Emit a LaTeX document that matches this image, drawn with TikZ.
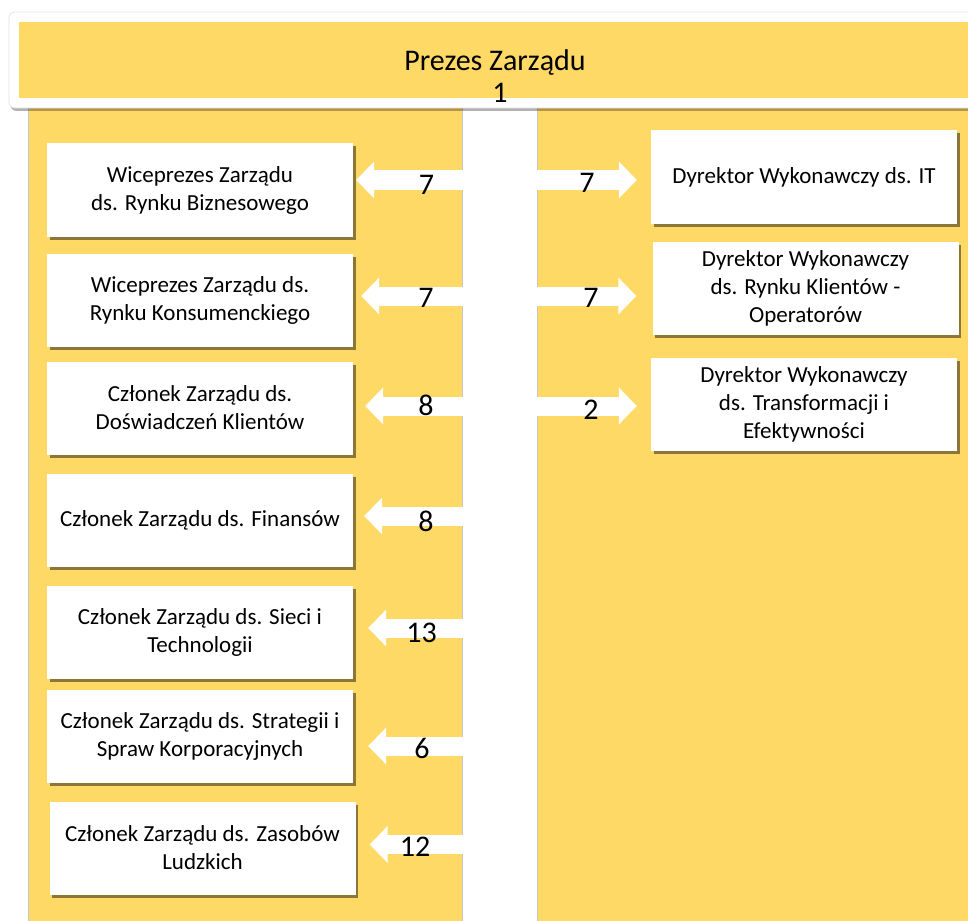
\documentclass[tikz,border=0pt]{standalone}
\usepackage{fontspec}
\setmainfont{Carlito}
\usetikzlibrary{shadows,arrows.meta}
\definecolor{gold}{HTML}{FFD966}
\begin{document}
\begin{tikzpicture}[x=1pt,y=-1pt,
  box/.style={fill=white, minimum width=306pt, minimum height=93pt, align=center,
    font=\fontsize{23}{28}\selectfont, inner sep=2pt,
    drop shadow={shadow xshift=2.5pt, shadow yshift=-3pt, fill=black, opacity=0.45}},
  num/.style={font=\fontsize{30}{32}\selectfont, inner sep=0pt},
  arr/.style={white, line width=19pt, -{Triangle[width=36pt,length=18pt]}},
  panel/.style={fill=gold, draw=black!22, line width=1pt}]
\useasboundingbox (0,0) rectangle (968,920);
\begin{scope}
\clip (0,0) rectangle (968,920);
\fill[white] (0,0) rectangle (968,920);
\draw[panel] (28,100) rectangle (462,940);
\draw[panel] (537,100) rectangle (990,940);
% header
\path[fill=white, draw=black!10, line width=0.8pt, rounded corners=6pt,
  drop shadow={shadow xshift=1.5pt, shadow yshift=-3pt, fill=black, opacity=0.3}]
  (9,12) rectangle (1000,108);
\fill[gold] (19,22) rectangle (990,98);
\node[font=\fontsize{30}{32}\selectfont, inner sep=0pt] (head) at (495,63) {Prezes Zarządu};
\node[num] (headnum) at (500,93) {1};
% left boxes
\node[box] (b1) at (200,190) {Wiceprezes Zarządu\\ds. Rynku Biznesowego};
\node[box] (b2) at (200,300) {Wiceprezes Zarządu ds.\\Rynku Konsumenckiego};
\node[box] (b3) at (200,408) {Członek Zarządu ds.\\Doświadczeń Klientów};
\node[box] (b4) at (200,520.5) {Członek Zarządu ds. Finansów};
\node[box] (b5) at (200,632.5) {Członek Zarządu ds. Sieci i\\Technologii};
\node[box] (b6) at (200,736.5) {Członek Zarządu ds. Strategii i\\Spraw Korporacyjnych};
\node[box] (b7) at (202.5,848) {Członek Zarządu ds. Zasobów\\Ludzkich};
% right boxes
\node[box] (r1) at (804,177) {Dyrektor Wykonawczy ds. IT};
\node[box] (r2) at (805.5,288) {Dyrektor Wykonawczy\\ds. Rynku Klientów -\\Operatorów};
\node[box] (r3) at (804,404) {Dyrektor Wykonawczy\\ds. Transformacji i\\Efektywności};
% arrow start points in the gap
\coordinate (gl1) at (470,180);
\coordinate (gl2) at (470,296);
\coordinate (gl3) at (470,406);
\coordinate (gl4) at (470,516);
\coordinate (gl5) at (470,628);
\coordinate (gl6) at (470,746);
\coordinate (gl7) at (470,844.5);
\coordinate (gr1) at (530,180);
\coordinate (gr2) at (530,296);
\coordinate (gr3) at (530,406);
% left arrows
\draw[arr, shorten >=3pt] (gl1) -- (b1.east |- gl1);
\draw[arr, shorten >=8pt] (gl2) -- (b2.east |- gl2);
\draw[arr, shorten >=12pt] (gl3) -- (b3.east |- gl3);
\draw[arr, shorten >=11pt] (gl4) -- (b4.east |- gl4);
\draw[arr, shorten >=15pt] (gl5) -- (b5.east |- gl5);
\draw[arr, shorten >=15pt] (gl6) -- (b6.east |- gl6);
\draw[arr, shorten >=14pt] (gl7) -- (b7.east |- gl7);
% right arrows
\draw[arr, shorten >=14pt] (gr1) -- (r1.west |- gr1);
\draw[arr, shorten >=16pt] (gr2) -- (r2.west |- gr2);
\draw[arr, shorten >=14pt] (gr3) -- (r3.west |- gr3);
% labels
\node[num] (n1) at (426.5,184.5) {7};
\node[num] (n2) at (426,298) {7};
\node[num] (n3) at (426,405) {8};
\node[num] (n4) at (426,521) {8};
\node[num] (n5) at (421.5,633) {13};
\node[num] (n6) at (422,748.5) {6};
\node[num] (n7) at (415,847) {12};
\node[num] (m1) at (587,183) {7};
\node[num] (m2) at (591,298) {7};
\node[num] (m3) at (591,410) {2};
\end{scope}
\end{tikzpicture}
\end{document}
